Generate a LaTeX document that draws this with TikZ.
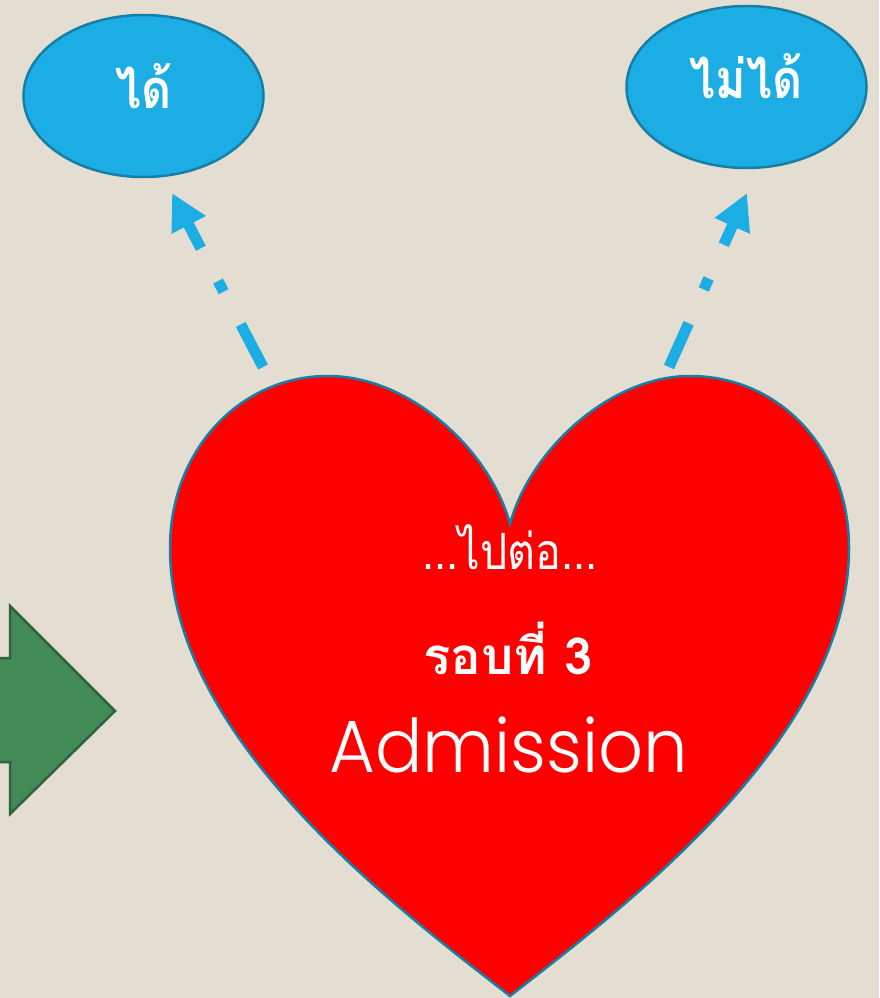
\documentclass[tikz,border=0pt]{standalone}
\usepackage{fontspec}
\setmainfont{Poppins}[UprightFont={* Light},FakeStretch=0.95]
\newfontfamily\thaifont[Script=Thai]{Loma}
\newfontfamily\thainarrow[Script=Thai,FakeStretch=0.86]{Loma}
\usetikzlibrary{arrows.meta,shapes.geometric}
\definecolor{bgc}{HTML}{E4DDD2}
\definecolor{skyc}{HTML}{1CADE4}
\definecolor{skyd}{HTML}{157FA6}
\definecolor{greenf}{HTML}{428B57}
\definecolor{greend}{HTML}{2F6340}
\tikzset{
 oval/.style={ellipse,draw=skyd,fill=skyc,line width=2.5pt,inner sep=0pt},
 lbl/.style={text=white,inner sep=0pt,anchor=center},
 dashar/.style={draw=skyc,line width=11pt,dash pattern=on 48pt off 37pt on 12pt off 37pt on 200pt,-{Triangle[length=36pt,width=36pt]}}}
\begin{document}
\begin{tikzpicture}[x=1pt,y=-1pt]
\useasboundingbox (0,0) rectangle (879,998);
\fill[bgc] (0,0) rectangle (879,998);
\node[oval,minimum width=240pt,minimum height=162pt] (a) at (143.5,96) {};
\node[oval,minimum width=240pt,minimum height=162pt] (b) at (746.5,87) {};
\node[lbl,font=\thainarrow\bfseries\fontsize{54}{58}\selectfont] at (144,86) {ได้};
\node[lbl,font=\thainarrow\bfseries\fontsize{54}{58}\selectfont] at (746,76) {ไม่ได้};
\draw[fill=red,draw=skyd,line width=2.5pt] (510,996)
 .. controls (400,910) and (170,740) .. (170,548)
 .. controls (170,450) and (240,376) .. (328,376)
 .. controls (410,376) and (490,450) .. (510,524)
 .. controls (530,450) and (610,376) .. (690,376)
 .. controls (780,376) and (849,450) .. (849,548)
 .. controls (849,740) and (620,910) .. (510,996) -- cycle;
\coordinate (h1) at (263,367);\coordinate (h2) at (669,367);
\coordinate (a1) at (172,193);\coordinate (b1) at (747,193);
\draw[dashar] (h1) -- (a1);
\draw[dashar] (h2) -- (b1);
\draw[fill=greenf,draw=greend,line width=2.5pt] (-5,658) -- (10,658) -- (10,606) -- (115,711) -- (10,814) -- (10,762) -- (-5,762) -- cycle;
\node[lbl,font=\thainarrow\fontsize{50}{54}\selectfont] at (510,547) {...ไปต่อ...};
\node[lbl,font=\thaifont\bfseries\fontsize{51}{55}\selectfont] at (508,648) {รอบที่ 3};
\node[lbl,font=\fontsize{74}{80}\selectfont] at (509,745) {Admission};
\end{tikzpicture}
\end{document}
